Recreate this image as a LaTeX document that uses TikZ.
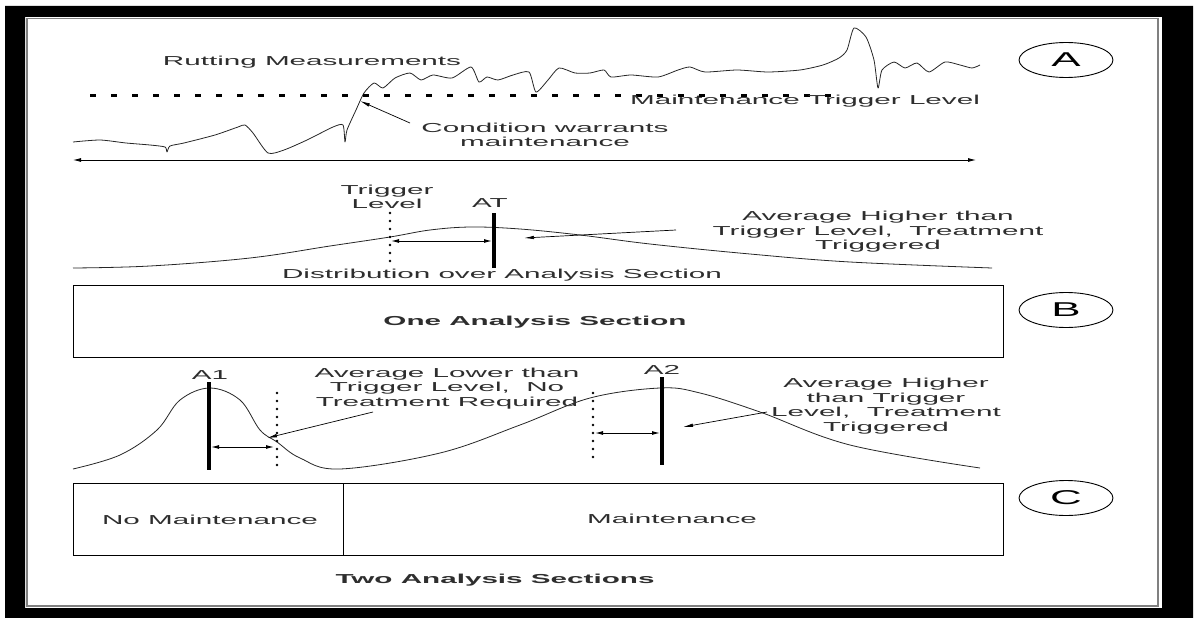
\documentclass[tikz,border=0pt]{standalone}
\usepackage{fontspec}
\setmainfont{Liberation Sans}
\usetikzlibrary{arrows.meta,shapes.geometric}
\begin{document}
\begin{tikzpicture}[x=1pt,y=-1pt,
  txt/.style={font=\fontsize{13}{14.5}\selectfont, text=black!82, xscale=2.28, inner sep=0pt, align=center},
  btxt/.style={txt, font=\fontsize{13}{14.5}\selectfont\bfseries},
  curve/.style={line width=0.8pt, black!85, line join=round},
  thickbar/.style={line width=3.2pt},
  dotline/.style={line width=2.6pt, dash pattern=on 0pt off 8pt, line cap=round},
  dbl/.style={line width=1pt, {Latex[length=8pt,width=4pt]}-{Latex[length=8pt,width=4pt]}},
  ptr/.style={line width=0.7pt, -{Latex[length=10pt,width=3.5pt]}},
  lbl/.style={draw, ellipse, minimum width=42.7pt, minimum height=35pt, inner sep=0pt, xscale=2.2, font=\fontsize{20}{22}\selectfont, line width=0.9pt},
  boxs/.style={draw, line width=1pt}
]
\useasboundingbox (0,0) rectangle (1195,618);
% frame
\fill[even odd rule] (5,6) rectangle (1193,618) (25,17) rectangle (1162,608);
\draw[gray, line width=1.2pt] (27,18.5) rectangle (1158,606);

% ---------- Section A ----------
\node[txt] (rut) at (312,62) {Rutting Measurements};
\node[lbl] (lA) at (1066,60) {A};
\draw[curve] plot[smooth, tension=0.4] coordinates {
(73,142) (100,140) (126,143) (150,145) (165,147) (167,152) (170,146) (184,143) (215,135) (238,127) (245,125) (253,133) (268,153) (284,150) (307,140) (333,127) (343,125) (345,142) (347,130) (356,110) (364,93) (374,83) (383,88) (395,78) (410,73) (421,80) (433,75) (452,78) (471,67) (479,82) (487,77) (498,80) (513,75) (529,72) (536,92) (548,80) (559,68) (575,73) (590,73) (604,70) (611,77) (631,75) (658,77) (678,70) (690,67) (705,72) (737,70) (768,72) (800,70) (823,65) (839,58) (847,50) (854,28) (866,37) (874,60) (878,88) (882,70) (894,62) (905,68) (917,63) (929,72) (945,62) (960,65) (972,68) (980,65)};
\draw[line width=3pt, dash pattern=on 6pt off 15pt] (90,96) -- (840,96);
\node[txt] (mtl) at (805,101) {Maintenance Trigger Level};
\node[txt] (cw) at (545,135) {Condition warrants\\maintenance};
\coordinate (cws) at (410,123);
\coordinate (cwe) at (360,101);
\draw[ptr] (cws) -- (cwe);
\coordinate (axL) at (73,160);
\coordinate (axR) at (976,160);
\draw[dbl, line width=0.8pt] (axL) -- (axR);

% ---------- Section B ----------
\node[txt] (tl) at (387,197) {Trigger\\Level};
\node[txt] (at) at (490,203) {AT};
\draw[curve] plot[smooth, tension=0.6] coordinates {
(73,268) (150,266) (250,258) (330,246) (390,237) (430,230) (471,227) (520,229) (580,235) (650,244) (750,254) (850,262) (992,268)};
\coordinate (tlt) at (390,213);
\coordinate (tlb) at (390,268);
\draw[dotline] (tlt) -- (tlb);
\coordinate (att) at (494,213);
\coordinate (atb) at (494,268);
\draw[thickbar] (att) -- (atb);
\coordinate (bdl) at (391,241);
\coordinate (bdr) at (492,241);
\draw[dbl] (bdl) -- (bdr);
\node[txt] (ahB) at (878,232) {Average Higher than\\Trigger Level,\ \ Treatment\\Triggered};
\coordinate (pBs) at (676,230);
\coordinate (pBe) at (524,238);
\draw[ptr] (pBs) -- (pBe);
\node[txt] (dist) at (502,275) {Distribution over Analysis Section};
\node[boxs, minimum width=930pt, minimum height=72pt, anchor=north west] (boxB) at (73,285) {};
\node[btxt] (oas) at (535,322) {One Analysis Section};
\node[lbl] (lB) at (1066,310) {B};

% ---------- Section C ----------
\draw[curve] plot[smooth, tension=0.6] coordinates {
(73,469) (120,455) (157,430) (180,400) (210,388) (240,400) (260,430) (277,442) (300,458) (340,469) (440,453) (520,425) (590,398) (660,388) (700,393) (760,412) (850,445) (980,468)};
\node[txt] (a1) at (210,375) {A1};
\coordinate (a1t) at (209,382);
\coordinate (a1b) at (209,470);
\draw[thickbar] (a1t) -- (a1b);
\coordinate (d1t) at (277,393);
\coordinate (d1b) at (277,472);
\draw[dotline] (d1t) -- (d1b);
\coordinate (c1l) at (211,447);
\coordinate (c1r) at (274,447);
\draw[dbl] (c1l) -- (c1r);
\node[txt] (alow) at (447,388.5) {Average Lower than\\Trigger Level,\ \ No\\Treatment Required};
\coordinate (pC1s) at (373,412);
\coordinate (pC1e) at (267,438);
\draw[ptr] (pC1s) -- (pC1e);
\coordinate (d2t) at (593,393);
\coordinate (d2b) at (593,462);
\draw[dotline] (d2t) -- (d2b);
\node[txt] (a2) at (662,370) {A2};
\coordinate (a2t) at (662,377);
\coordinate (a2b) at (662,465);
\draw[thickbar] (a2t) -- (a2b);
\coordinate (c2l) at (595,433);
\coordinate (c2r) at (660,433);
\draw[dbl] (c2l) -- (c2r);
\node[txt] (ahC) at (886,406) {Average Higher\\than Trigger\\Level,\ \ Treatment\\Triggered};
\coordinate (pC2s) at (767,412);
\coordinate (pC2e) at (683,427);
\draw[ptr] (pC2s) -- (pC2e);
\node[boxs, minimum width=930pt, minimum height=72pt, anchor=north west] (boxC) at (73,483) {};
\coordinate (divt) at (343,483);
\coordinate (divb) at (343,555);
\draw[line width=1pt] (divt) -- (divb);
\node[txt] (nm) at (210,520) {No Maintenance};
\node[txt] (mn) at (672,519) {Maintenance};
\node[lbl] (lC) at (1066,498) {C};
\node[btxt] (tas) at (495,580) {Two Analysis Sections};
\end{tikzpicture}
\end{document}
